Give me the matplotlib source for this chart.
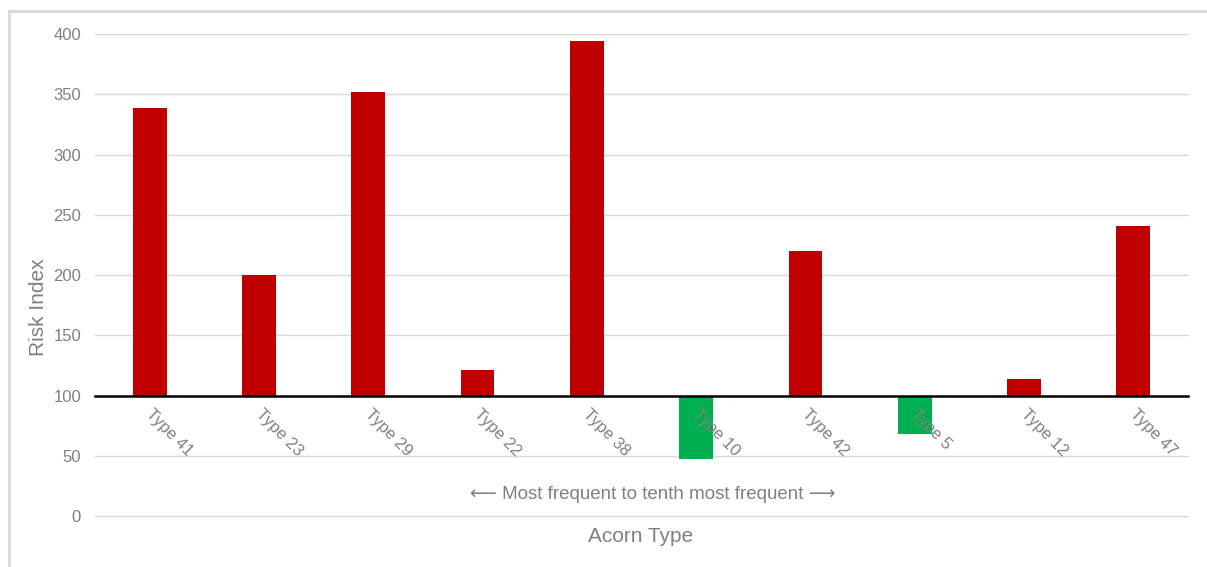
import matplotlib
matplotlib.use("Agg")
import matplotlib.pyplot as plt
from matplotlib.lines import Line2D
import numpy as np

plt.rcParams['font.family'] = ['Liberation Sans', 'DejaVu Sans']

# Risk index per Acorn type, ordered from most to tenth most frequent
categories = ["Type 41", "Type 23", "Type 29", "Type 22", "Type 38",
              "Type 10", "Type 42", "Type 5", "Type 12", "Type 47"]
risk_index = [339, 200, 352, 121, 394, 47, 220, 68, 114, 241]
baseline = 100
y_ticks = [0, 50, 100, 150, 200, 250, 300, 350, 400]

RED = "#C00000"
GREEN = "#00B050"
GRID = "#D9D9D9"
TEXT = "#808080"

W, H = 1207, 567
fig = plt.figure(figsize=(W / 100, H / 100), dpi=100)
ax = fig.add_axes([95 / W, 51 / H, (1188 - 95) / W, (516 - 34) / H])

x = np.arange(len(categories))
vals = np.array(risk_index, dtype=float)
colors = [RED if v >= baseline else GREEN for v in vals]
ax.bar(x, vals - baseline, bottom=baseline, width=0.31, color=colors, zorder=3)

ax.set_xlim(-0.5, len(categories) - 0.5)
ax.set_ylim(0, 400)
ax.set_yticks(y_ticks)
ax.set_yticklabels([str(t) for t in y_ticks], fontsize=12, color=TEXT)
ax.tick_params(axis='y', length=0, pad=10)
ax.tick_params(axis='x', length=0)

for t in y_ticks:
    if t == baseline:
        continue
    ax.axhline(t, color=GRID, lw=1.0, zorder=1, clip_on=False)
ax.axhline(baseline, color="black", lw=1.8, zorder=4, clip_on=False)

for s in ax.spines.values():
    s.set_visible(False)

ax.set_xticks(x)
ax.set_xticklabels([])
for xi, lab in zip(x, categories):
    ax.annotate(lab, xy=(xi, baseline), xytext=(3, -8), textcoords="offset points",
                rotation=-45, rotation_mode="anchor", ha="left", va="top",
                fontsize=12, color=TEXT, zorder=5)

ax.text(4.6, 18, "\u27f5 Most frequent to tenth most frequent \u27f6",
        ha="center", va="center", fontsize=13.5, color=TEXT)

fig.text(641 / W, 1 - 537 / H, "Acorn Type", ha="center", va="center",
         fontsize=15, color=TEXT)
fig.text(38 / W, 1 - 307 / H, "Risk Index", ha="center", va="center",
         rotation=90, fontsize=15, color=TEXT)

# light frame along the top and left edges of the chart area
fig.add_artist(Line2D([9 / W, 1.0], [1 - 11 / H, 1 - 11 / H], color=GRID, lw=2))
fig.add_artist(Line2D([9 / W, 9 / W], [0.0, 1 - 11 / H], color=GRID, lw=2))

fig.savefig("out.png", dpi=100)
